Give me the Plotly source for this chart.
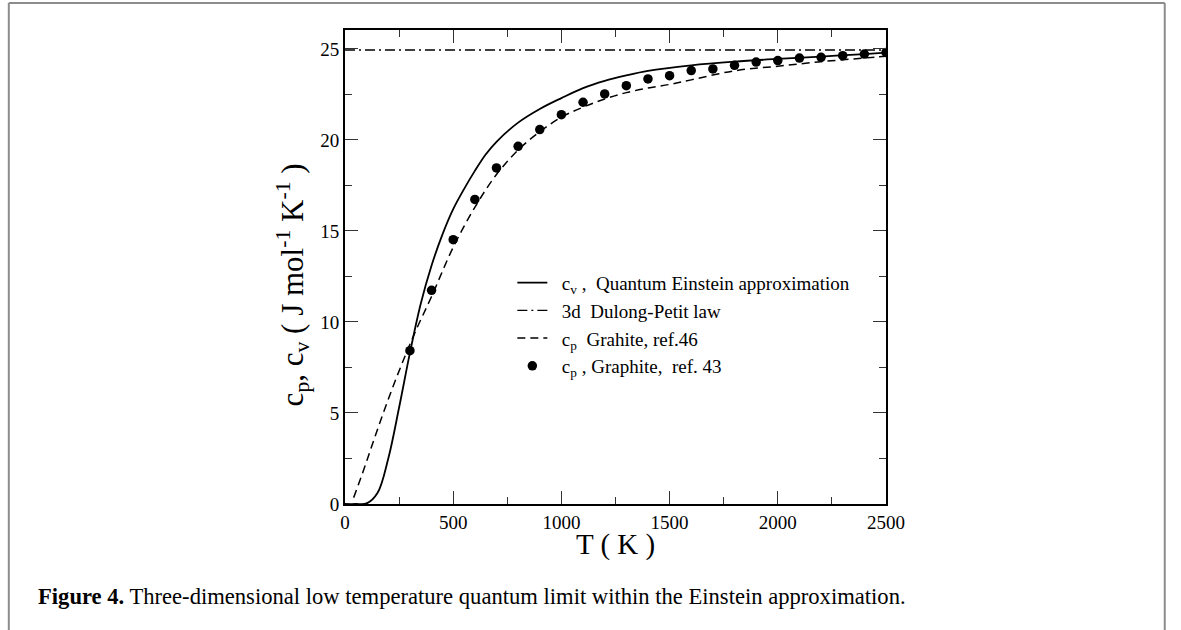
import plotly.graph_objects as go

# ---- data ----
T_einstein = [0, 50, 100, 150, 200, 250, 300, 350, 400, 450, 500, 550, 600, 650, 700, 800,
              900, 1000, 1100, 1200, 1300, 1400, 1600, 1800, 2000, 2200, 2400, 2500]
cv_einstein = [0, 0, 0.03, 0.6, 2.5, 5.3, 8.3, 11.0, 13.1, 14.8, 16.2, 17.3, 18.3, 19.2, 19.9, 20.95,
               21.7, 22.3, 22.85, 23.25, 23.55, 23.8, 24.1, 24.3, 24.45, 24.58, 24.72, 24.8]

T_dp = [0, 2500]
c_dp = [24.94, 24.94]

T_ref46 = [40, 90, 133, 180, 230, 280, 330, 400, 500, 600, 700, 800, 900, 1000, 1100, 1200,
           1300, 1400, 1500, 1600, 1800, 2000, 2200, 2400, 2500]
cp_ref46 = [0.35, 2.0, 3.5, 5.1, 6.7, 8.2, 9.6, 11.4, 14.1, 16.3, 18.1, 19.45, 20.45, 21.25, 21.8, 22.25,
            22.6, 22.85, 23.05, 23.3, 23.8, 24.05, 24.3, 24.5, 24.6]

T_ref43 = [300, 400, 500, 600, 700, 800, 900, 1000, 1100, 1200, 1300, 1400, 1500, 1600,
           1700, 1800, 1900, 2000, 2100, 2200, 2300, 2400, 2500]
cp_ref43 = [8.42, 11.74, 14.52, 16.73, 18.46, 19.65, 20.57, 21.39, 22.07, 22.53, 22.98, 23.35,
            23.53, 23.81, 23.90, 24.10, 24.28, 24.36, 24.50, 24.54, 24.63, 24.72, 24.81]

x_ticks = [0, 500, 1000, 1500, 2000, 2500]
y_ticks = [0, 5, 10, 15, 20, 25]

# ---- geometry (pixels) ----
W, H = 1181, 630
PL, PR, PT, PB = 344.5, 886.0, 30.0, 504.3


def px(x):
    return (x - PL) / (PR - PL)


def py(y):
    return (PB - y) / (PB - PT)


FONT = "Liberation Serif"
SP = "&nbsp;&nbsp;"

fig = go.Figure()
fig.add_trace(go.Scatter(x=T_einstein, y=cv_einstein, mode="lines", line_shape="spline",
                         line=dict(color="black", width=1.8),
                         name=SP + "c<sub>v</sub> ,  Quantum Einstein approximation"))
fig.add_trace(go.Scatter(x=T_dp, y=c_dp, mode="lines",
                         line=dict(color="black", width=1.3, dash="10px,4px,2px,4px"),
                         name=SP + "3d  Dulong-Petit law"))
fig.add_trace(go.Scatter(x=T_ref46, y=cp_ref46, mode="lines", line_shape="spline",
                         line=dict(color="black", width=1.5, dash="8px,5px"),
                         name=SP + "c<sub>p</sub>  Grahite, ref.46"))
fig.add_trace(go.Scatter(x=T_ref43, y=cp_ref43, mode="markers",
                         marker=dict(color="black", size=9.5),
                         name=SP + "c<sub>p</sub> , Graphite,  ref. 43"))

axis_common = dict(showline=True, linecolor="black", linewidth=2, mirror="allticks",
                   ticks="inside", ticklen=13, tickwidth=1, tickcolor="#333",
                   showgrid=False, zeroline=False,
                   tickfont=dict(family=FONT, size=19, color="black"))

fig.update_xaxes(range=[0, 2500], tickvals=x_ticks, ticktext=[str(v) for v in x_ticks],
                 minor=dict(dtick=250, ticks="inside", ticklen=7, tickwidth=1, tickcolor="#333"),
                 **axis_common)
fig.update_yaxes(range=[0, 26.04], tickvals=y_ticks, ticktext=[str(v) for v in y_ticks],
                 minor=dict(dtick=2.5, ticks="inside", ticklen=7, tickwidth=1, tickcolor="#333"),
                 **axis_common)

frame_col = "#8c8c8c"
shapes = [
    dict(type="line", xref="paper", yref="paper", x0=px(8), x1=px(8), y0=py(3), y1=py(640),
         line=dict(color=frame_col, width=2)),
    dict(type="line", xref="paper", yref="paper", x0=px(8), x1=px(1165), y0=py(3), y1=py(3),
         line=dict(color=frame_col, width=2)),
    dict(type="line", xref="paper", yref="paper", x0=px(1165), x1=px(1165), y0=py(3), y1=py(640),
         line=dict(color=frame_col, width=2)),
]

annotations = [
    dict(xref="paper", yref="paper", x=px(615), y=py(545), text="T ( K )", showarrow=False,
         font=dict(family=FONT, size=29, color="black"), xanchor="center", yanchor="middle"),
    dict(xref="paper", yref="paper", x=px(292), y=py(285),
         text="c<sub>p</sub>, c<sub>v</sub> ( J mol<sup>-1</sup> K<sup>-1</sup> )",
         showarrow=False, textangle=-90,
         font=dict(family=FONT, size=31, color="black"), xanchor="center", yanchor="middle"),
    dict(xref="paper", yref="paper", x=px(35), y=py(597),
         text="<b>Figure 4.</b> Three-dimensional low temperature quantum limit within the Einstein approximation.",
         showarrow=False, font=dict(family=FONT, size=22.6, color="black"),
         xanchor="left", yanchor="middle"),
]

fig.update_layout(
    width=W, height=H,
    margin=dict(l=PL, r=W - PR, t=PT, b=H - PB, pad=0),
    paper_bgcolor="white", plot_bgcolor="white",
    font=dict(family=FONT, size=19, color="black"),
    showlegend=True,
    legend=dict(x=px(512), y=py(264), xanchor="left", yanchor="top",
                bgcolor="rgba(0,0,0,0)", font=dict(family=FONT, size=19, color="black"),
                tracegroupgap=0, itemwidth=30),
    shapes=shapes, annotations=annotations,
)

fig.write_html("out.html", config={"displayModeBar": False},
               post_script="document.body.style.margin='0';document.body.style.overflow='hidden';")
